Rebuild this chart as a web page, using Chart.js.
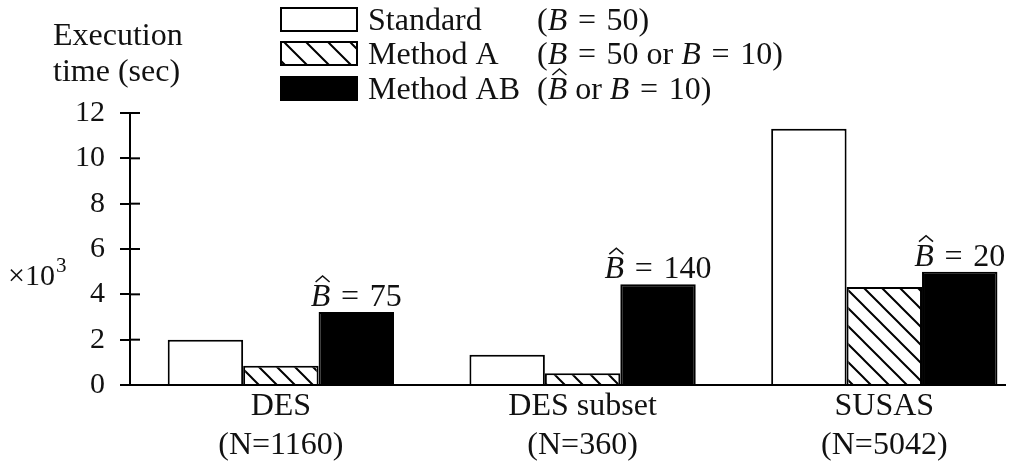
<!DOCTYPE html>
<html>
<head>
<meta charset="utf-8">
<script src="https://cdn.jsdelivr.net/npm/chart.js@4.4.1/dist/chart.umd.min.js"></script>
<style>
body { margin: 0; background: #fff; }
#wrap { width: 1030px; height: 463px; position: relative; }
</style>
</head>
<body>
<div id="wrap"><canvas id="bar-chart"></canvas></div>
<script>
// data (values in thousands of seconds)
var categories = ["DES", "DES subset", "SUSAS"];
var sizes = ["(N=1160)", "(N=360)", "(N=5042)"];
var standard = [2.0, 1.33, 11.3];
var methodA = [0.85, 0.52, 4.32];
var methodAB = [3.22, 4.45, 5.0];
var bHat = ["75", "140", "20"];
var yTicks = [0, 2, 4, 6, 8, 10, 12];

var FONT = '"Liberation Serif", "DejaVu Serif", serif';
var FS = 30;   // tick digits
var WS = 32;   // words
var EQ = "\u2004=\u2004";

function hatch(size) {
  var c = document.createElement("canvas");
  c.width = size; c.height = size;
  var g = c.getContext("2d");
  g.fillStyle = "#fff";
  g.fillRect(0, 0, size, size);
  g.strokeStyle = "#000";
  g.lineWidth = 2;
  g.beginPath();
  g.moveTo(-1, -1); g.lineTo(size + 1, size + 1);
  g.moveTo(size - 2, -2); g.lineTo(size + 2, 2);
  g.moveTo(-2, size - 2); g.lineTo(2, size + 2);
  g.stroke();
  return g.createPattern(c, "repeat");
}

var ctx0 = document.getElementById("bar-chart").getContext("2d");
var hatchBar = hatch(18);
var hatchLegend = hatch(22);

function pts(arr) {
  return arr.map(function (v, i) { return { x: i, y: v }; });
}

// draws text made of plain / italic / hatted parts
function drawRich(ctx, parts, x, y, size) {
  parts.forEach(function (p) {
    ctx.font = (p.it ? "italic " : "") + size + "px " + FONT;
    ctx.fillText(p.t, x, y);
    var w = ctx.measureText(p.t).width;
    if (p.hat) {
      var cx = x + w / 2 + 2;
      ctx.save();
      ctx.lineWidth = 1.5;
      ctx.beginPath();
      ctx.moveTo(cx - 7, y - 24);
      ctx.lineTo(cx, y - 30);
      ctx.lineTo(cx + 7, y - 24);
      ctx.stroke();
      ctx.restore();
    }
    x += w;
  });
  return x;
}
function richWidth(ctx, parts, size) {
  var w = 0;
  parts.forEach(function (p) {
    ctx.font = (p.it ? "italic " : "") + size + "px " + FONT;
    w += ctx.measureText(p.t).width;
  });
  return w;
}

var legendRows = [
  { name: "Standard", fill: "#fff", math: [{ t: "(" }, { t: "B", it: 1 }, { t: EQ + "50)" }] },
  { name: "Method A", fill: hatchLegend, math: [{ t: "(" }, { t: "B", it: 1 }, { t: EQ + "50 or " }, { t: "B", it: 1 }, { t: EQ + "10)" }] },
  { name: "Method AB", fill: "#000", math: [{ t: "(" }, { t: "B", it: 1, hat: 1 }, { t: " or " }, { t: "B", it: 1 }, { t: EQ + "10)" }] }
];
var legendBase = [30, 64, 99];

var overlay = {
  id: "overlay",
  afterDraw: function (chart) {
    var ctx = chart.ctx;
    var ys = chart.scales.y;
    var area = chart.chartArea;
    ctx.save();
    // inner half of the y tick marks
    ctx.strokeStyle = "#000";
    ctx.lineWidth = 2;
    yTicks.forEach(function (v) {
      var py = ys.getPixelForValue(v);
      ctx.beginPath();
      ctx.moveTo(area.left, py);
      ctx.lineTo(area.left + 10, py);
      ctx.stroke();
    });

    ctx.fillStyle = "#111";
    ctx.textBaseline = "alphabetic";
    ctx.textAlign = "left";
    ctx.font = WS + "px " + FONT;
    ctx.fillText("Execution", 53, 45);
    ctx.fillText("time (sec)", 53, 81);
    ctx.font = FS + "px " + FONT;
    ctx.fillText("\u00d710", 8, 285);
    var w10 = ctx.measureText("\u00d710").width;
    ctx.font = "21px " + FONT;
    ctx.fillText("3", 8 + w10 + 1, 272);

    // legend
    legendRows.forEach(function (r, i) {
      var b = legendBase[i];
      ctx.fillStyle = r.fill;
      ctx.fillRect(281, b - 22, 76, 23);
      ctx.strokeStyle = "#000";
      ctx.lineWidth = 2;
      ctx.strokeRect(281, b - 22, 76, 23);
      ctx.fillStyle = "#111";
      ctx.strokeStyle = "#111";
      ctx.font = WS + "px " + FONT;
      ctx.fillText(r.name, 368, b);
      drawRich(ctx, r.math, 537, b, WS);
    });

    // B-hat labels above the Method AB bars
    var meta = chart.getDatasetMeta(2);
    meta.data.forEach(function (bar, i) {
      var parts = [{ t: "B", it: 1, hat: 1 }, { t: EQ + bHat[i] }];
      var w = richWidth(ctx, parts, WS);
      drawRich(ctx, parts, bar.x - w / 2, bar.y - 6, WS);
    });
    ctx.restore();
  }
};

Chart.defaults.font.family = FONT;
Chart.defaults.font.size = FS;
Chart.defaults.color = "#111";

new Chart(ctx0, {
  type: "bar",
  data: {
    datasets: [
      { label: "Standard", data: pts(standard), backgroundColor: "#fff", borderColor: "#000", borderWidth: 2, borderSkipped: "bottom" },
      { label: "Method A", data: pts(methodA), backgroundColor: hatchBar, borderColor: "#000", borderWidth: 2, borderSkipped: "bottom" },
      { label: "Method AB", data: pts(methodAB), backgroundColor: "#000", borderColor: "#000", borderWidth: 2, borderSkipped: "bottom" }
    ]
  },
  options: {
    responsive: true,
    maintainAspectRatio: false,
    animation: false,
    categoryPercentage: 0.75,
    barPercentage: 1.0,
    layout: { padding: { top: 113, right: 25, left: 0, bottom: 0 } },
    plugins: { legend: { display: false }, tooltip: { enabled: false } },
    scales: {
      x: {
        type: "linear",
        min: -0.5,
        max: 2.4,
        offset: false,
        grid: { display: false, drawTicks: false, offset: false },
        border: { display: true, color: "#000", width: 2 },
        afterBuildTicks: function (s) {
          s.ticks = categories.map(function (c, i) { return { value: i }; });
        },
        afterFit: function (s) { s.height = 78; },
        ticks: {
          padding: 2,
          maxRotation: 0,
          autoSkip: false,
          font: { size: WS, lineHeight: 1.22 },
          callback: function (v) { return [categories[v], sizes[v]]; }
        }
      },
      y: {
        min: 0,
        max: 12,
        grid: { display: true, drawOnChartArea: false, drawTicks: true, tickLength: 10, color: "#000", lineWidth: 2 },
        border: { display: true, color: "#000", width: 2 },
        afterBuildTicks: function (s) {
          s.ticks = yTicks.map(function (v) { return { value: v }; });
        },
        afterFit: function (s) { s.width = 130; },
        ticks: { padding: 15 }
      }
    }
  },
  plugins: [overlay]
});
</script>
</body>
</html>
